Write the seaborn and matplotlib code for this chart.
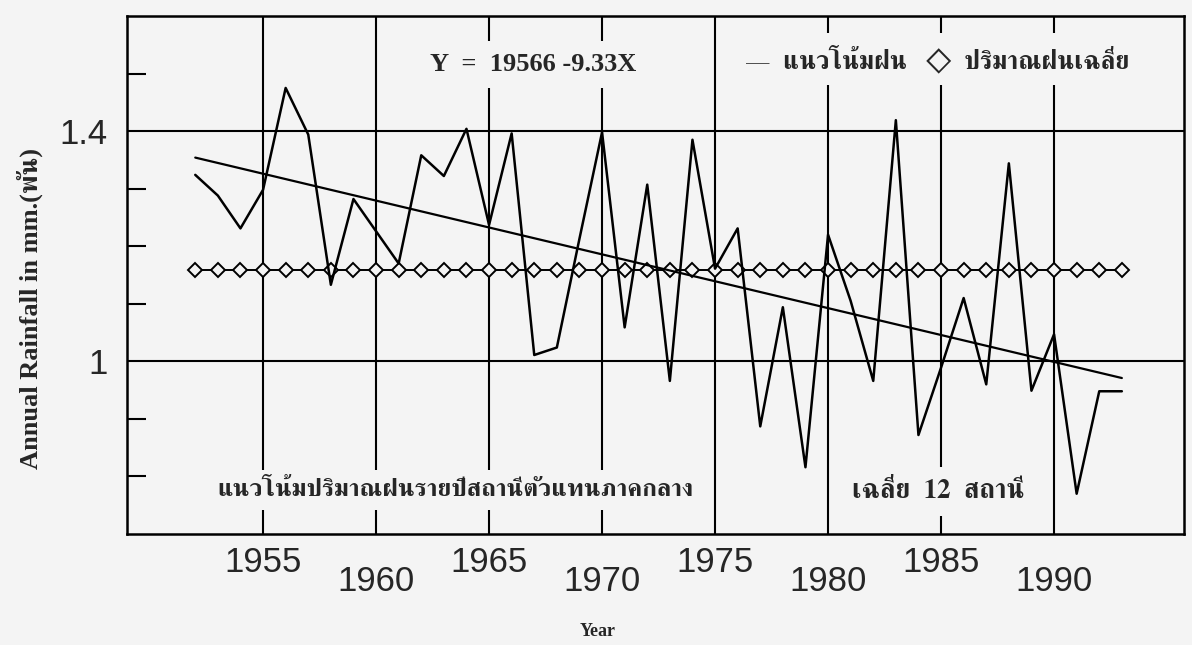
import matplotlib
matplotlib.use("Agg")
import matplotlib.pyplot as plt
from matplotlib.ticker import FixedLocator
import seaborn as sns
import pandas as pd

# annual rainfall (thousand mm), central region, mean of 12 stations
years = list(range(1952, 1994))
rainfall = [1.324, 1.288, 1.231, 1.298, 1.475, 1.394, 1.133, 1.282, 1.226, 1.170,
            1.358, 1.322, 1.404, 1.237, 1.396, 1.011, 1.024, 1.213, 1.398, 1.059,
            1.307, 0.966, 1.385, 1.161, 1.231, 0.887, 1.094, 0.816, 1.220, 1.105,
            0.966, 1.419, 0.872, 0.989, 1.110, 0.960, 1.344, 0.949, 1.047, 0.770,
            0.948, 0.948]
mean_rain = 1.158
trend_years = [1952, 1993]
trend_vals = [1.354, 0.971]

xticks = [1955, 1960, 1965, 1970, 1975, 1980, 1985, 1990]
yticks = [1.0, 1.4]
ytick_labels = ["1", "1.4"]
yminor = [0.8, 0.9, 1.1, 1.2, 1.3, 1.5]

eq_text = "Y  =  19566 -9.33X"
legend_text = "—  แนวโน้มฝน   ◇  ปริมาณฝนเฉลี่ย"
title_text = "แนวโน้มปริมาณฝนรายปีสถานีตัวแทนภาคกลาง"
note_text = "เฉลี่ย  12  สถานี"
ylabel = "Annual Rainfall in mm.(พัน)"
xlabel = "Year"

thai = ["FreeSerif", "Loma", "DejaVu Sans"]

sns.set_style("white")
plt.rcParams["font.family"] = ["DejaVu Sans"]

bg = "#f4f4f4"
fig = plt.figure(figsize=(11.92, 6.45), dpi=100, facecolor=bg)
ax = fig.add_axes([127 / 1192, 1 - 534 / 645, (1184 - 127) / 1192, (534 - 16) / 645])
ax.set_facecolor(bg)

df = pd.DataFrame({"year": years, "rain": rainfall})
mean_df = pd.DataFrame({"year": years, "mean": [mean_rain] * len(years)})
trend_df = pd.DataFrame({"year": trend_years, "trend": trend_vals})

sns.lineplot(data=mean_df, x="year", y="mean", color="black", lw=1.4, marker="D",
             markersize=7.5, markerfacecolor=bg, markeredgecolor="black",
             markeredgewidth=1.4, ax=ax, zorder=2)
sns.lineplot(data=trend_df, x="year", y="trend", color="black", lw=1.6, ax=ax, zorder=2)
sns.lineplot(data=df, x="year", y="rain", color="black", lw=1.8, ax=ax, zorder=2)

ax.set_xlim(1948.98, 1995.75)
ax.set_ylim(0.7, 1.6)

for s in ax.spines.values():
    s.set_color("black")
    s.set_linewidth(1.8)

ax.set_xticks(xticks)
ax.set_xticklabels([str(y) for y in xticks])
ax.set_yticks(yticks)
ax.set_yticklabels(ytick_labels)
ax.yaxis.set_minor_locator(FixedLocator(yminor))
ax.grid(True, which="major", color="black", lw=1.5)
ax.set_axisbelow(True)

ax.tick_params(axis="x", which="major", direction="inout", length=18, width=1.5,
               color="black", labelsize=25, pad=0)
ax.tick_params(axis="y", which="major", length=0, labelsize=25, pad=14)
ax.tick_params(axis="y", which="minor", direction="in", length=14, width=1.5,
               color="black", left=True)
for lab in ax.get_xticklabels() + ax.get_yticklabels():
    lab.set_family("Liberation Sans")

# staggered year labels like the original printout
for i, t in enumerate(ax.xaxis.get_major_ticks()):
    if i % 2 == 1:
        t.set_pad(13)
        t.tick1line.set_markersize(30)

ax.set_xlabel("")
ax.set_ylabel("")
fig.text(598 / 1192, 1 - 632 / 645, xlabel, ha="center", va="center", fontsize=13,
         fontweight="bold", family=["Liberation Serif"])
fig.text(30 / 1192, 1 - 308 / 645, ylabel, ha="center", va="center", rotation=90,
         fontsize=19, fontweight="bold", family=["Liberation Serif"] + thai)

box = dict(boxstyle="square,pad=0.45", fc=bg, ec="none")
ax.text(1962.39, 1.516, eq_text, ha="left", va="center", fontsize=19, fontweight="bold",
        family=["Liberation Serif"], bbox=box, zorder=3)
ax.text(1976.33, 1.525, legend_text, ha="left", va="center", fontsize=18.4,
        fontweight="bold", family=thai, bbox=box, zorder=3)
ax.text(1953.0, 0.776, title_text, ha="left", va="center", fontsize=18.1,
        fontweight="bold", family=thai,
        bbox=dict(boxstyle="square,pad=0.35", fc=bg, ec="none"), zorder=3)
ax.text(1981.06, 0.774, note_text, ha="left", va="center", fontsize=19.3,
        fontweight="bold", family=thai, bbox=box, zorder=3)

fig.savefig("out.png", dpi=100, facecolor=bg)
